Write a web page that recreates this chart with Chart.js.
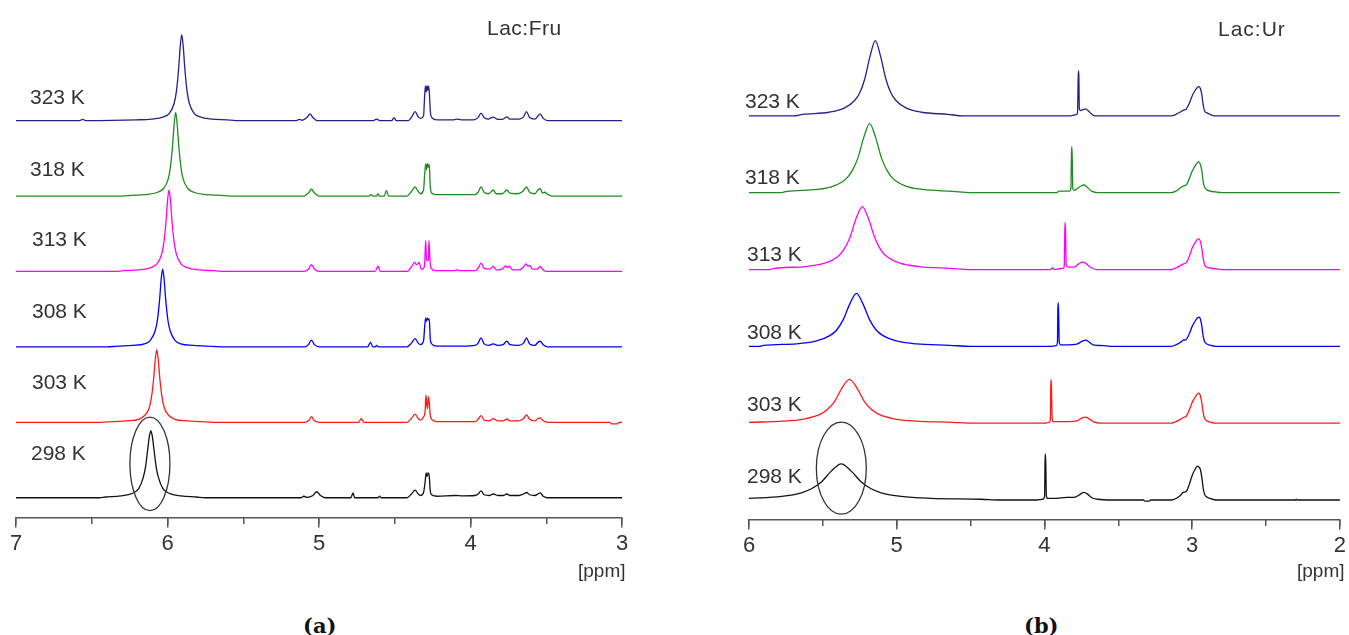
<!DOCTYPE html>
<html>
<head>
<meta charset="utf-8">
<script src="https://cdn.jsdelivr.net/npm/chart.js@4.4.1/dist/chart.umd.min.js"></script>
<style>
body{margin:0;background:#fff;width:1349px;height:635px;position:relative;overflow:hidden;font-family:"Liberation Sans",Arial,sans-serif;}
.box{position:absolute;top:0;height:600px;}
#boxA{left:0;width:670px;}
#boxB{left:680px;width:669px;}
.lbl{position:absolute;font-size:21px;line-height:21px;color:#333;white-space:nowrap;}
.unit{position:absolute;font-size:19px;line-height:19px;color:#333;white-space:nowrap;}
.cap{position:absolute;font-family:"DejaVu Serif","Liberation Serif",serif;font-weight:bold;font-size:21px;line-height:21px;color:#111;}
</style>
</head>
<body>
<div class="box" id="boxA"><canvas id="chartA"></canvas></div>
<div class="box" id="boxB"><canvas id="chartB"></canvas></div>

<div class="lbl" style="left:30px;top:86px">323 K</div>
<div class="lbl" style="left:30px;top:158px">318 K</div>
<div class="lbl" style="left:32px;top:228px">313 K</div>
<div class="lbl" style="left:32px;top:300px">308 K</div>
<div class="lbl" style="left:32px;top:371px">303 K</div>
<div class="lbl" style="left:31px;top:442px">298 K</div>
<div class="lbl" style="left:487px;top:17px;letter-spacing:0.5px">Lac:Fru</div>
<div class="unit" style="left:578px;top:561px">[ppm]</div>

<div class="lbl" style="left:745px;top:90px">323 K</div>
<div class="lbl" style="left:745px;top:166px">318 K</div>
<div class="lbl" style="left:747px;top:243px">313 K</div>
<div class="lbl" style="left:747px;top:321px">308 K</div>
<div class="lbl" style="left:747px;top:393px">303 K</div>
<div class="lbl" style="left:747px;top:465px">298 K</div>
<div class="lbl" style="left:1218px;top:18px;letter-spacing:1px">Lac:Ur</div>
<div class="unit" style="left:1297px;top:561px">[ppm]</div>

<div class="cap" style="left:303px;top:615px">(a)</div>
<div class="cap" style="left:1024px;top:615px">(b)</div>

<script>
// spectra: [ppm, intensity above own baseline]
var tempLabels = ['323 K', '318 K', '313 K', '308 K', '303 K', '298 K'];
var traceColors = ['#22228c', '#1e8c1e', '#ff00ff', '#0000ff', '#ff1a1a', '#111111'];
var offsets = [500, 400, 300, 200, 100, 0];

var fru323 = [[7.0,0],[6.58,0],[6.56,1.5],[6.54,0],
  [6.206,1],[6.106,2],[6.026,5],[5.986,10],[5.956,23],[5.941,39],[5.926,70],[5.916,98],[5.906,114],[5.896,98],[5.886,70],[5.871,39],[5.856,23],[5.826,10],[5.786,5],[5.706,2],[5.606,1],
  [5.55,0],[5.15,0],[5.13,1.5],[5.11,0.5],[5.08,4],[5.06,9],[5.04,4],[5.01,0],
  [4.64,0],[4.62,2],[4.60,0],[4.52,0],[4.505,4],[4.49,0],
  [4.41,0],[4.385,6],[4.366,12],[4.345,5],[4.33,3],[4.31,6],[4.302,35],[4.297,46],[4.292,38],[4.287,46],[4.282,40],[4.277,46],[4.272,38],[4.265,12],[4.255,4],[4.22,1],
  [4.11,1],[4.09,2],[4.06,1],[3.98,1],[3.95,4],[3.93,10],[3.91,4],[3.885,2],[3.85,4.5],[3.82,1.5],[3.785,2],[3.76,5],[3.74,2],[3.68,2],[3.65,5],[3.63,12],[3.61,4],[3.575,2],[3.555,6],[3.54,9],[3.52,3],[3.49,0],[3.0,0]];

var fru318 = [[7.0,0],[6.30,0],
  [6.246,1],[6.146,2],[6.066,5],[6.026,10],[5.996,22],[5.981,38],[5.966,68],[5.956,95],[5.946,111],[5.936,95],[5.926,68],[5.911,38],[5.896,22],[5.866,10],[5.826,5],[5.746,2],[5.646,1],
  [5.58,0],[5.10,0],[5.07,4],[5.05,9],[5.03,4],[5.0,0],
  [4.67,0],[4.655,2],[4.645,0],[4.62,0],[4.61,3],[4.60,0],[4.57,0],[4.555,7],[4.54,0],
  [4.42,0],[4.39,6],[4.366,12],[4.345,6],[4.33,3],[4.31,8],[4.302,30],[4.295,43],[4.29,35],[4.284,43],[4.278,38],[4.272,42],[4.266,14],[4.256,4],[4.23,2],
  [4.15,2],[4.05,2],[3.97,2],[3.95,5],[3.93,12],[3.91,5],[3.88,3],[3.85,8],[3.83,3],[3.79,3],[3.76,8],[3.74,4],[3.69,3],[3.655,6],[3.63,12],[3.61,5],[3.575,3],[3.555,8],[3.54,10],[3.525,4],[3.51,5],[3.49,2],[3.46,0],[3.0,0]];

var fru313 = [[7.0,0],[6.35,0],
  [6.29,1],[6.19,2],[6.11,5],[6.07,10],[6.04,22],[6.025,37],[6.01,66],[6.0,93],[5.99,108],[5.98,93],[5.97,66],[5.955,37],[5.94,22],[5.91,10],[5.87,5],[5.79,2],[5.69,1],
  [5.62,0],[5.10,0],[5.07,3],[5.05,9],[5.03,3],[5.0,0],
  [4.63,0],[4.61,7],[4.595,0],
  [4.42,0],[4.39,6],[4.37,12],[4.355,9],[4.34,12],[4.325,3],[4.31,4],[4.302,12],[4.296,41],[4.29,16],[4.283,14],[4.278,16],[4.274,41],[4.268,16],[4.26,4],[4.23,1],
  [4.11,1],[4.09,2],[4.06,1],[3.97,1],[3.95,4],[3.93,11],[3.91,4],[3.875,3],[3.85,6.6],[3.83,2],[3.785,4],[3.77,7.5],[3.755,5],[3.745,7],[3.72,2],[3.68,2],[3.65,6],[3.635,10],[3.62,7],[3.61,8],[3.59,3],[3.56,3],[3.54,6.6],[3.52,2],[3.49,0],[3.0,0]];

var fru308 = [[7.0,0],[6.40,0],
  [6.332,1],[6.232,2],[6.152,4],[6.112,9],[6.082,21],[6.067,35],[6.052,63],[6.042,89],[6.032,103],[6.022,89],[6.012,63],[5.997,35],[5.982,21],[5.952,9],[5.912,4],[5.832,2],[5.732,1],
  [5.66,0],[5.09,0],[5.07,3],[5.05,9],[5.03,3],[5.0,0],
  [4.68,0],[4.66,6],[4.645,0],[4.63,0],[4.62,2],[4.61,0],
  [4.42,0],[4.39,5],[4.366,11],[4.345,5],[4.33,3],[4.31,8],[4.302,28],[4.296,38],[4.29,34],[4.284,38],[4.278,36],[4.272,37],[4.266,12],[4.256,4],[4.22,1],
  [4.10,1],[4.05,1],[3.97,2],[3.95,5],[3.93,12],[3.91,4],[3.88,2],[3.85,4],[3.82,2],[3.785,3],[3.76,7.5],[3.74,3],[3.68,2],[3.65,5],[3.63,12],[3.61,4],[3.575,2],[3.555,6],[3.54,7.5],[3.52,3],[3.49,0],[3.0,0]];

var fru303 = [[7.0,0],[6.44,0],
  [6.371,1],[6.271,2],[6.191,4],[6.151,9],[6.121,19],[6.106,33],[6.091,59],[6.081,83],[6.071,96],[6.061,83],[6.051,59],[6.036,33],[6.021,19],[5.991,9],[5.951,4],[5.871,2],[5.771,1],
  [5.70,0],[5.09,0],[5.065,3],[5.05,7.5],[5.035,3],[5.0,0],
  [4.74,0],[4.72,5],[4.705,0],
  [4.42,0],[4.39,5],[4.366,11],[4.345,5],[4.33,3],[4.31,7],[4.30,14],[4.294,36],[4.288,22],[4.283,18],[4.278,34],[4.272,26],[4.266,10],[4.256,4],[4.22,1],
  [4.10,1],[3.97,1],[3.95,4],[3.93,9],[3.91,3],[3.875,2],[3.85,5],[3.82,2],[3.785,2],[3.76,4.4],[3.74,2],[3.68,2],[3.65,5],[3.63,10],[3.61,4],[3.575,2],[3.555,5],[3.54,6],[3.52,2],[3.49,0],
  [3.08,0],[3.07,-2],[3.03,-2],[3.02,0],[3.0,0]];

var fru298 = [[7.0,0],[6.45,0],
  [6.41,1],[6.31,2.5],[6.23,6],[6.19,12],[6.16,27],[6.145,41],[6.13,65],[6.12,81],[6.11,89],[6.10,81],[6.09,65],[6.075,41],[6.06,27],[6.03,12],[5.99,6],[5.91,2.5],[5.81,1],
  [5.75,0],[5.12,0],[5.10,2],[5.08,0.5],[5.04,3],[5.015,8],[4.99,3],[4.96,0],
  [4.79,0],[4.775,6.6],[4.765,0],[4.61,0],[4.60,2],[4.59,0],
  [4.42,0],[4.39,5],[4.366,10],[4.345,5],[4.33,3],[4.31,7],[4.30,20],[4.293,33],[4.287,28],[4.28,33],[4.272,28],[4.266,10],[4.256,4],
  [4.22,2],[4.10,3],[4.05,2.5],[3.97,3],[3.95,5],[3.93,9],[3.91,4],[3.875,3],[3.85,5],[3.82,3],[3.785,3],[3.76,5],[3.74,3],[3.68,3],[3.65,5],[3.63,7],[3.61,4],[3.575,3],[3.555,5],[3.54,6.6],[3.52,2],[3.49,0],[3.0,0]];

var ur323 = [[6.0,0],[5.70,0],
  [5.635,2],[5.46,4.7],[5.355,10],[5.285,20],[5.25,30],[5.215,49],[5.18,78],[5.145,98],[5.11,78],[5.075,49],[5.04,30],[5.005,20],[4.935,10],[4.83,4.7],[4.655,2],
  [4.55,0],[3.82,0],[3.80,1],[3.785,1.5],[3.776,4],[3.772,45],[3.770,59],[3.767,52],[3.764,10],[3.758,7],[3.74,8],[3.72,9],[3.70,6],[3.68,2],[3.66,0],
  [3.14,0],[3.11,2],[3.08,5],[3.06,7.5],[3.04,9],[3.02,16],[3.0,26],[2.98,33],[2.965,37],[2.955,38],[2.945,36],[2.935,28],[2.925,14],[2.915,6],[2.90,4],[2.88,2],[2.85,0],[2.0,0]];

var ur318 = [[6.0,0],[5.78,0],
  [5.743,1.8],[5.543,4.2],[5.423,9],[5.343,18],[5.303,28],[5.263,45],[5.223,72],[5.183,90],[5.143,72],[5.103,45],[5.063,28],[5.023,18],[4.943,9],[4.823,4.2],[4.623,1.8],
  [4.5,0],[3.92,0],[3.90,2],[3.83,2],[3.821,5],[3.817,50],[3.815,60],[3.812,48],[3.808,6],[3.80,3],[3.78,5],[3.75,9],[3.73,10],[3.71,7],[3.68,2],[3.64,0],
  [3.14,0],[3.11,2],[3.08,6],[3.06,9],[3.04,10],[3.02,18],[3.0,28],[2.98,35],[2.965,39],[2.955,40],[2.945,37],[2.935,29],[2.925,14],[2.915,7],[2.90,4],[2.88,2],[2.84,1],[2.80,0],[2.0,0]];

var ur313 = [[6.0,0],[5.86,0],
  [5.828,1.6],[5.616,3.9],[5.488,8.2],[5.403,16.4],[5.361,25],[5.318,41],[5.276,66],[5.233,82],[5.191,66],[5.148,41],[5.106,25],[5.063,16.4],[4.978,8.2],[4.851,3.9],[4.638,1.6],
  [4.5,0],[3.96,0],[3.945,2],[3.93,0],[3.90,1],[3.87,2],[3.866,5],[3.862,52],[3.86,61],[3.857,50],[3.853,6],[3.84,3],[3.80,3],[3.77,7],[3.745,9.6],[3.72,8],[3.69,3],[3.64,0],
  [3.14,0],[3.11,2],[3.08,5],[3.06,7.4],[3.04,9],[3.02,17],[3.0,28],[2.98,35],[2.965,39],[2.955,40],[2.945,37],[2.935,28],[2.925,14],[2.915,6],[2.90,3],[2.88,2],[2.84,1],[2.80,0],[2.0,0]];

var ur308 = [[6.0,0],[5.93,0],
  [5.903,1.4],[5.678,3.3],[5.543,7],[5.453,14],[5.408,21],[5.363,34.5],[5.318,55],[5.273,69],[5.228,55],[5.183,34.5],[5.138,21],[5.093,14],[5.003,7],[4.868,3.3],[4.643,1.4],
  [4.5,0],[3.95,0],[3.92,1],[3.912,5],[3.909,48],[3.907,57],[3.904,45],[3.90,6],[3.89,2],[3.84,2],[3.78,3],[3.74,7],[3.718,8],[3.70,6],[3.67,2],[3.60,1],[3.56,0],
  [3.14,0],[3.11,2],[3.08,5],[3.06,8],[3.04,9],[3.02,16],[3.0,26],[2.98,33],[2.965,37],[2.955,38],[2.945,36],[2.935,27],[2.925,13],[2.915,6],[2.90,3],[2.88,1.5],[2.84,0],[2.0,0]];

var ur303 = [[6.0,1.1],[5.77,2.7],[5.62,5.7],[5.52,11.4],[5.47,17.7],[5.42,28.5],[5.37,46],[5.32,57],[5.27,46],[5.22,28.5],[5.17,17.7],[5.12,11.4],[5.02,5.7],[4.87,2.7],[4.62,1.1],
  [4.5,0],[4.0,0],[3.97,1],[3.96,5],[3.957,48],[3.955,57],[3.952,45],[3.948,6],[3.94,2],[3.85,2],[3.78,3],[3.745,7],[3.723,8],[3.70,6],[3.67,2],[3.62,0],
  [3.14,0],[3.11,2],[3.08,5],[3.06,7.4],[3.04,9],[3.02,17],[3.0,27],[2.98,34],[2.965,38],[2.955,39],[2.945,36],[2.935,27],[2.925,13],[2.915,6],[2.90,3],[2.88,1.5],[2.84,0],[2.0,0]];

var ur298 = [[6.0,2.2],[5.78,4.7],[5.645,9.4],[5.578,14.6],[5.51,23.5],[5.443,37.6],[5.375,47],[5.308,37.6],[5.24,23.5],[5.173,14.6],[5.105,9.4],[4.97,4.7],[4.768,2.2],[4.43,1],[4.30,0],
  [4.05,0],[4.01,1],[3.999,5],[3.996,50],[3.994,60],[3.991,48],[3.987,6],[3.98,2],[3.93,2],[3.85,3.5],[3.80,3.5],[3.76,7],[3.735,10],[3.71,8],[3.68,3],[3.64,1],[3.55,0],[3.33,0],[3.32,-1.5],[3.29,-1.5],[3.28,0],
  [3.14,0],[3.11,2],[3.08,6],[3.06,10],[3.04,11],[3.02,20],[3.0,32],[2.98,40],[2.965,44],[2.955,43],[2.945,40],[2.935,30],[2.925,15],[2.915,7],[2.90,4],[2.88,2],[2.84,0],[2.30,0],[2.296,1],[2.29,0],[2.0,0]];

var fruSpectra = [fru323, fru318, fru313, fru308, fru303, fru298];
var urSpectra = [ur323, ur318, ur313, ur308, ur303, ur298];

// circled peak of the 298 K trace: centre (ppm, intensity) and half axes
var ringA = {x: 6.116, y: 45, rx: 0.132, ry: 62};
var ringB = {x: 5.375, y: 41.5, rx: 0.169, ry: 60};

var ringPlugin = {
    id: 'ring',
    afterDatasetsDraw: function (chart, args, opts) {
        var xs = chart.scales.x, ys = chart.scales.y;
        var cx = xs.getPixelForValue(opts.x), cy = ys.getPixelForValue(opts.y);
        var rx = Math.abs(xs.getPixelForValue(opts.x + opts.rx) - cx);
        var ry = Math.abs(ys.getPixelForValue(opts.y + opts.ry) - cy);
        var ctx = chart.ctx;
        ctx.save();
        ctx.beginPath();
        ctx.ellipse(cx, cy, rx, ry, 0, 0, Math.PI * 2);
        ctx.strokeStyle = '#333';
        ctx.lineWidth = 1.3;
        ctx.stroke();
        ctx.restore();
    }
};

function makeDatasets(spectra) {
    var sets = [];
    for (var i = 0; i < spectra.length; i++) {
        var pts = [];
        for (var j = 0; j < spectra[i].length; j++) {
            pts.push({x: spectra[i][j][0], y: spectra[i][j][1] + offsets[i]});
        }
        sets.push({
            label: tempLabels[i],
            data: pts,
            borderColor: traceColors[i],
            borderWidth: 1.3,
            pointRadius: 0,
            fill: false,
            cubicInterpolationMode: 'monotone',
            clip: false
        });
    }
    return sets;
}

function makeChart(id, spectra, xMin, xMax, yMin, yMax, ring, pad) {
    var axisFont = {family: '"Liberation Sans", Arial, sans-serif', size: 22};
    return new Chart(document.getElementById(id).getContext('2d'), {
        type: 'line',
        data: {datasets: makeDatasets(spectra)},
        plugins: [ringPlugin],
        options: {
            responsive: true,
            maintainAspectRatio: false,
            animation: false,
            devicePixelRatio: 1,
            layout: {padding: pad},
            plugins: {legend: {display: false}, tooltip: {enabled: false}, ring: ring},
            scales: {
                x: {
                    type: 'linear', reverse: true, min: xMin, max: xMax, position: 'bottom',
                    ticks: {stepSize: 1, padding: 3, color: '#333', font: axisFont},
                    grid: {drawOnChartArea: false, tickLength: 10, color: '#555', lineWidth: 1.5},
                    border: {color: '#555', width: 1.5}
                },
                xMinor: {
                    type: 'linear', axis: 'x', reverse: true, min: xMin, max: xMax, position: {y: yMin},
                    ticks: {display: false, stepSize: 0.5},
                    grid: {drawOnChartArea: false, tickLength: 6, color: '#555', lineWidth: 1.5},
                    border: {display: false}
                },
                y: {type: 'linear', display: false, min: yMin, max: yMax}
            }
        }
    });
}

var chartA = makeChart('chartA', fruSpectra, 3, 7, -26.3, 640, ringA, {left: 16, right: 48, top: 15, bottom: 40});
var chartB = makeChart('chartB', urSpectra, 2, 6, -25.5, 630, ringB, {left: 69, right: 8, top: 16, bottom: 38});
</script>
</body>
</html>
